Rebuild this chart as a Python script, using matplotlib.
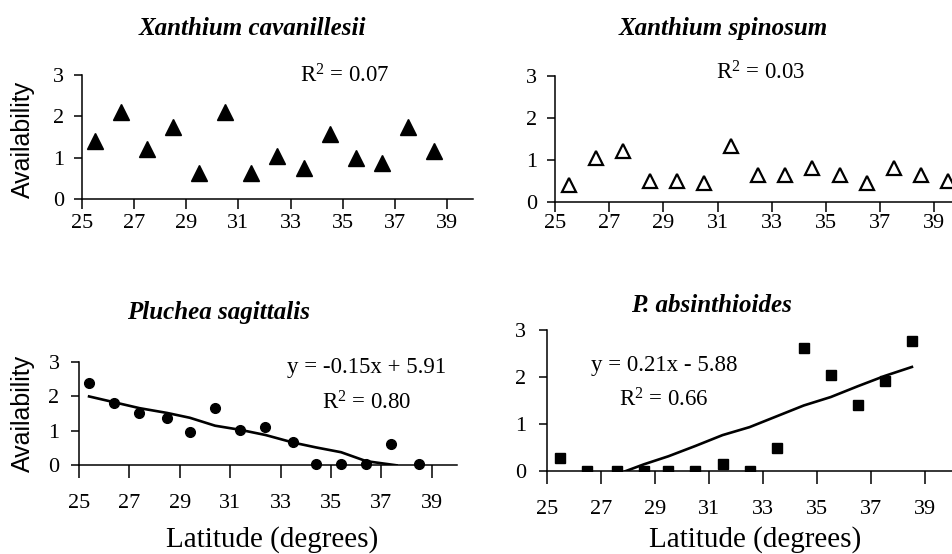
import matplotlib
matplotlib.use("Agg")
import matplotlib.pyplot as plt

# ---------------------------------------------------------
# Data
# ---------------------------------------------------------
lat_cav = [25.5, 26.5, 27.5, 28.5, 29.5, 30.5, 31.5, 32.5, 33.5, 34.5, 35.5, 36.5, 37.5, 38.5]
cav = [1.4, 2.1, 1.2, 1.75, 0.64, 2.1, 0.63, 1.05, 0.75, 1.57, 0.99, 0.87, 1.75, 1.15]

lat_spin = [25.5, 26.5, 27.5, 28.5, 29.5, 30.5, 31.5, 32.5, 33.5, 34.5, 35.5, 36.5, 37.5, 38.5, 39.5]
spin = [0.40, 1.05, 1.22, 0.5, 0.5, 0.45, 1.34, 0.64, 0.64, 0.81, 0.64, 0.45, 0.81, 0.64, 0.5]

lat_plu = [25.4, 26.4, 27.4, 28.5, 29.4, 30.4, 31.4, 32.4, 33.5, 34.4, 35.4, 36.4, 37.4, 38.5]
plu = [2.39, 1.81, 1.52, 1.38, 0.96, 1.67, 1.02, 1.11, 0.67, 0.03, 0.03, 0.03, 0.61, 0.03]
lat_plu_fit = [25.4, 26.4, 27.4, 28.5, 29.4, 30.4, 31.4, 32.4, 33.5, 34.4, 35.4, 36.4, 37.6]
plu_fit = [2.0, 1.83, 1.66, 1.52, 1.38, 1.15, 1.03, 0.88, 0.66, 0.52, 0.38, 0.12, 0.0]

lat_abs = [25.5, 26.5, 27.6, 28.6, 29.5, 30.5, 31.5, 32.5, 33.5, 34.5, 35.5, 36.5, 37.5, 38.5]
absi = [0.29, 0, 0, 0, 0, 0, 0.16, 0, 0.5, 2.62, 2.05, 1.41, 1.93, 2.77]
lat_abs_fit = [27.9, 28.6, 29.5, 30.5, 31.5, 32.5, 33.5, 34.5, 35.5, 36.5, 37.5, 38.5]
abs_fit = [0.0, 0.15, 0.32, 0.54, 0.77, 0.94, 1.17, 1.40, 1.58, 1.81, 2.03, 2.22]

xticks = [25, 27, 29, 31, 33, 35, 37, 39]
yticks = [0, 1, 2, 3]

SERIF = "Liberation Serif"
SANS = "Liberation Sans"

plt.rcParams["mathtext.fontset"] = "custom"
plt.rcParams["mathtext.rm"] = SERIF
plt.rcParams["mathtext.it"] = SERIF + ":italic"

W, H = 952, 554
fig = plt.figure(figsize=(W / 100, H / 100), dpi=100)


def box(l, t, r, b):
    return [l / W, 1 - b / H, (r - l) / W, (b - t) / H]


def px(x, y):
    return x / W, 1 - y / H


def style_axes(ax, ticklen, xpad, ypad):
    ax.set_xlim(25, 40)
    ax.set_ylim(0, 3)
    ax.set_xticks(xticks)
    ax.set_yticks(yticks)
    for s in ["top", "right"]:
        ax.spines[s].set_visible(False)
    for s in ["left", "bottom"]:
        ax.spines[s].set_linewidth(1.1)
    ax.tick_params(direction="out", length=ticklen, width=1.1, labelsize=16)
    ax.tick_params(axis="x", pad=xpad)
    ax.tick_params(axis="y", pad=ypad, length=6)
    for lab in ax.get_xticklabels() + ax.get_yticklabels():
        lab.set_fontfamily(SERIF)
    ax.patch.set_alpha(0)


# Panel 1: Xanthium cavanillesii
ax1 = fig.add_axes(box(82, 75, 473, 199))
ax1.plot(lat_cav, cav, linestyle="none", marker="^", ms=11, color="black", clip_on=False)
style_axes(ax1, 7, 4, 7)

# Panel 2: Xanthium spinosum
ax2 = fig.add_axes(box(555, 76, 961.5, 201.7))
ax2.plot(lat_spin, spin, linestyle="none", marker="^", ms=10, mfc="white", mec="black",
         mew=1.6, clip_on=False)
style_axes(ax2, 7, 2, 7)

# Panel 3: Pluchea sagittalis
ax3 = fig.add_axes(box(79, 362, 457, 465.3))
ax3.plot(lat_plu_fit, plu_fit, color="black", lw=1.9)
ax3.plot(lat_plu, plu, linestyle="none", marker="o", ms=7, color="black", clip_on=False)
style_axes(ax3, 9, 12, 8)

# Panel 4: P. absinthioides
ax4 = fig.add_axes(box(546.7, 330.3, 952.5, 471.3))
ax4.plot(lat_abs_fit, abs_fit, color="black", lw=1.9)
ax4.plot(lat_abs, absi, linestyle="none", marker="s", ms=6.5, color="black", clip_on=True)
style_axes(ax4, 9, 12, 9)

# Titles
title_kw = dict(fontfamily=SERIF, fontsize=18, fontweight="bold", fontstyle="italic",
                ha="center", va="baseline")
fig.text(*px(252, 35), "Xanthium cavanillesii", **title_kw)
fig.text(*px(723, 34.5), "Xanthium spinosum", **title_kw)
fig.text(*px(219, 318.5), "Pluchea sagittalis", **title_kw)
fig.text(*px(711, 312.5), "P. absinthioides", **title_kw)

# Regression annotations
note_kw = dict(fontfamily=SERIF, fontsize=16.5, ha="center", va="baseline")
fig.text(*px(345, 82.5), r"R$^{2}$ = 0.07", **note_kw)
fig.text(*px(761, 79.3), r"R$^{2}$ = 0.03", **note_kw)
fig.text(*px(367, 373), "y = -0.15x + 5.91", **note_kw)
fig.text(*px(367, 409.5), r"R$^{2}$ = 0.80", **note_kw)
fig.text(*px(664, 371), "y = 0.21x - 5.88", **note_kw)
fig.text(*px(664, 406.3), r"R$^{2}$ = 0.66", **note_kw)

# Axis labels
ylab_kw = dict(fontfamily=SANS, fontsize=18, rotation=90, ha="center", va="center")
fig.text(*px(23, 139), "Availability", **ylab_kw)
fig.text(*px(23, 413), "Availability", **ylab_kw)

xlab_kw = dict(fontfamily=SERIF, fontsize=21, ha="center", va="baseline")
fig.text(*px(272.5, 547), "Latitude (degrees)", **xlab_kw)
fig.text(*px(755, 547), "Latitude (degrees)", **xlab_kw)

fig.savefig("out.png", dpi=100)
